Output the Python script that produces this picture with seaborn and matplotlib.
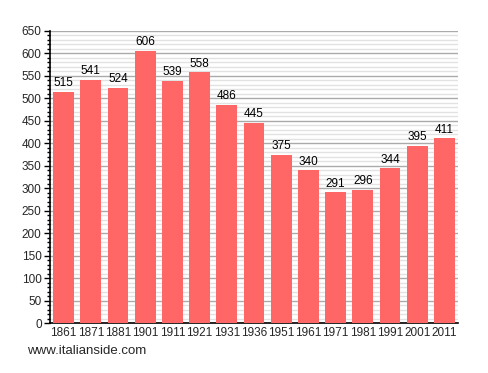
import matplotlib
matplotlib.use("Agg")
import matplotlib.pyplot as plt
import seaborn as sns
import pandas as pd
from matplotlib.ticker import MultipleLocator

years = ["1861", "1871", "1881", "1901", "1911", "1921", "1931", "1936",
         "1951", "1961", "1971", "1981", "1991", "2001", "2011"]
population = [515, 541, 524, 606, 539, 558, 486, 445, 375, 340, 291, 296, 344, 395, 411]

df = pd.DataFrame({"year": years, "pop": population})

sns.set_style("white")
plt.rcParams['font.family'] = ['Liberation Sans', 'DejaVu Sans']

fig = plt.figure(figsize=(4.88, 3.73), dpi=100)
ax = fig.add_axes([0.1025, 0.134, 0.836, 0.783])

sns.barplot(data=df, x="year", y="pop", color="#FF6666", saturation=1,
            width=0.77, linewidth=0, edgecolor="none", ax=ax, zorder=3)

ax.set_ylim(0, 650)
ax.set_xlim(-0.5, len(years) - 0.5)
ax.yaxis.set_major_locator(MultipleLocator(50))
ax.yaxis.set_minor_locator(MultipleLocator(10))
ax.grid(which="major", axis="y", color="#AAAAAA", linewidth=1, zorder=0)
ax.grid(which="minor", axis="y", color="#E2E2E2", linewidth=1, zorder=0)
ax.set_axisbelow(True)

for s in ["top", "right"]:
    ax.spines[s].set_visible(False)
for s in ["left", "bottom"]:
    ax.spines[s].set_color("black")
    ax.spines[s].set_linewidth(1.2)

ax.tick_params(axis="y", which="major", length=4, width=1, color="black",
               labelsize=8.5, pad=2, left=True)
ax.tick_params(axis="y", which="minor", length=2, width=1, color="black", left=True)
ax.tick_params(axis="x", length=0, labelsize=8.5, pad=3)
ax.set_xlabel("")
ax.set_ylabel("")

for i, v in enumerate(population):
    ax.text(i, v + 6, str(v), ha="center", va="bottom", fontsize=8.5, color="black", zorder=4)

fig.text(27 / 488, 1 - 351 / 373, "www.italianside.com", fontsize=9.5, va="center", ha="left")

fig.savefig("out.png", dpi=100, facecolor="white")
